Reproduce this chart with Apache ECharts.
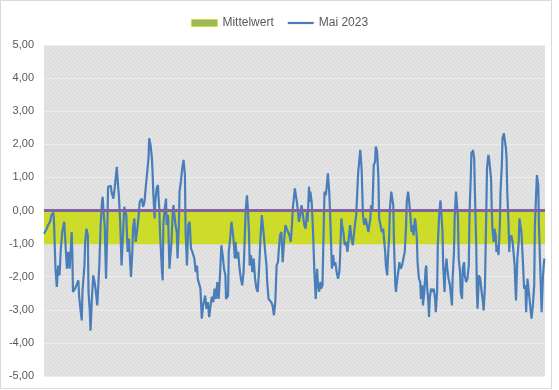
<!DOCTYPE html>
<html>
<head>
<meta charset="utf-8">
<script src="https://cdn.jsdelivr.net/npm/echarts@6/dist/echarts.min.js"></script>
<style>html,body{margin:0;padding:0;background:#fff}#c{width:559px;height:390px}</style>
</head>
<body>
<div id="c"></div>
<script>
// Stündliche Werte Mai 2023: [Stunde seit 1. Mai 00:00, Wert]
const mai2023 = [
[0,-0.70],[4,-0.55],[6,-0.44],[9,-0.34],[11,-0.14],[14,-0.06],[15,-0.44],[17,-1.76],[19,-2.31],[21,-1.66],
[23,-1.96],[25,-1.15],[27,-0.65],[30,-0.34],[32,-1.06],[34,-1.76],[36,-1.25],[38,-1.76],[40,-1.06],[41,-0.65],
[42,-1.25],[43,-2.46],[46,-2.36],[48,-2.26],[51,-2.11],[52,-2.57],[54,-2.97],[56,-3.32],[57,-2.46],[60,-1.66],
[61,-0.95],[63,-0.55],[65,-0.75],[66,-2.46],[68,-3.07],[69,-3.63],[71,-2.67],[73,-1.96],[75,-2.16],[77,-2.46],
[79,-2.87],[82,-1.66],[84,-0.44],[86,0.26],[87,0.41],[89,-0.24],[90,-0.44],[92,-2.06],[94,-0.44],[95,0.72],
[99,0.75],[100,0.57],[103,0.36],[105,0.72],[108,1.32],[109,0.97],[111,0.46],[113,-0.34],[115,-1.66],[116,-1.25],
[119,0.11],[121,0.06],
[122,-0.14],[124,-1.25],[126,-0.85],[128,-1.66],[129,-2.01],[131,-1.25],[132,-0.55],[134,-0.24],[136,-0.95],[139,-0.44],
[140,-0.24],[142,0.26],[145,0.36],[147,0.11],[149,0.26],[151,0.72],[153,0.77],[155,1.58],[156,2.18],[157,2.23],
[158,1.98],[160,1.58],[161,1.17],[162,0.57],[164,-0.24],[165,0.26],[167,0.67],[169,0.77],[170,0.36],[171,0.06],
[172,-0.65],[175,-1.86],[176,-2.11],[177,-0.44],[179,0.06],[181,0.36],[182,-0.44],[184,-0.14],[186,-1.76],[187,-1.81],
[189,-0.95],[191,-0.04],[192,0.16],[195,-0.44],[197,-0.65],[198,-1.45],[200,-0.44],[201,0.57],[203,0.87],[205,1.27],
[207,1.53],[209,1.07],[210,-0.65],[212,-1.66],[214,-0.44],[216,-0.34],[218,-1.15],[220,-1.25],[223,-1.45],[225,-1.86],
[227,-1.66],[228,-2.06],[230,-2.06],[232,-2.36],[234,-3.27],[236,-2.87],[239,-2.57],[241,-2.97],[243,-2.77],[245,-3.22],
[247,-2.87],[249,-2.60],
[251,-2.77],[253,-2.36],[255,-2.67],[257,-2.16],[259,-2.67],[260,-2.67],[261,-1.96],[263,-1.05],[265,-1.35],[267,-1.76],
[269,-1.96],[270,-2.67],[273,-2.57],[274,-1.25],[276,-0.85],[278,-0.34],[279,-0.29],[281,-0.85],[283,-1.45],[284,-0.95],
[286,-1.45],[288,-1.25],[290,-1.76],[292,-2.06],[294,-2.26],[296,-1.86],[297,-1.25],[299,-0.04],[301,0.46],[302,0.16],
[304,-0.65],[305,-1.66],[307,-1.35],[309,-1.86],[311,-1.45],[313,-2.06],[315,-2.36],[317,-2.46],[319,-1.76],[321,-0.85],
[323,-0.14],[325,-0.09],[326,-0.75],[328,-1.25],[330,-1.66],[331,-2.16],[333,-2.67],[335,-2.62],[337,-2.77],[339,-2.87],
[341,-3.17],[343,-2.77],[345,-1.66],[347,-1.56],[348,-1.25],[350,-0.75],[352,-0.65],[354,-1.56],[356,-0.95],[358,-0.44],
[360,-0.55],[362,-0.65],[364,-0.75],[366,-0.95],[368,-0.34],[369,0.06],[372,0.67],[375,0.26],[377,-0.12],
[378,-0.34],[380,-0.14],[382,0.16],[384,-0.14],[386,-0.44],[388,-0.55],[390,-0.04],[391,-0.34],[393,0.72],[394,0.26],
[395,0.57],[397,0.26],[399,-0.65],[401,-1.86],[403,-2.67],[405,-1.76],[406,-2.16],[408,-2.46],[410,-2.16],[411,-2.36],
[413,-2.26],[414,-1.25],[416,0.57],[418,0.46],[420,0.87],[421,1.12],[423,0.57],[424,0.06],[426,-1.15],[427,-1.76],
[429,-1.35],[430,-1.66],[432,-1.56],[434,-1.86],[436,-2.06],[438,-1.86],[439,-1.45],[441,-0.24],[442,-0.44],[444,-0.65],
[446,-1.05],[448,-0.95],[450,-1.25],[452,-0.85],[454,-0.44],[456,-0.85],[458,-1.05],[461,-0.44],[463,-0.14],[466,1.17],
[467,1.37],[469,1.83],[471,1.27],[472,0.57],[473,-0.14],[475,-0.44],[477,-0.24],[479,-0.44],[481,-0.65],[484,-0.24],
[485,0.16],[487,-0.04],[489,1.37],[491,1.47],[492,1.93],[494,1.78],[496,0.97],[497,-0.24],[499,-0.44],[501,-0.65],
[503,-0.55],
[506,-1.25],[507,-1.66],[509,-1.96],[510,-1.45],[512,-0.75],[513,0.06],[515,0.57],[516,0.62],[518,0.16],[519,-0.95],
[521,-2.26],[522,-2.46],[524,-2.06],[526,-1.76],[527,-1.56],[529,-1.76],[531,-1.66],[533,-1.45],[535,-1.25],[537,-0.44],
[538,0.26],[540,0.57],[542,0.57],[543,-0.04],[545,-0.65],[546,-0.44],[548,-0.75],[550,-0.24],[551,-0.34],[553,-0.85],
[554,-1.56],[556,-2.06],[558,-2.16],[559,-2.67],[561,-2.26],[562,-2.87],[564,-2.46],[566,-1.76],[567,-1.66],[568,-2.26],
[570,-2.77],[571,-3.22],[572,-2.67],[574,-2.36],[576,-2.46],[578,-2.36],[580,-2.67],[581,-3.07],[583,-2.46],[584,-1.05],
[586,-0.14],[588,0.31],[589,0.26],[591,-0.65],[592,-1.66],[594,-2.46],[595,-1.86],[597,-1.45],[598,-1.76],[600,-2.06],
[602,-2.26],[603,-2.46],[605,-2.87],[606,-2.06],[608,-1.25],[609,-0.24],[611,0.57],[612,0.62],[614,-0.24],[615,-1.45],
[617,-1.86],[618,-2.46],[620,-2.67],[621,-1.76],[623,-1.56],[624,-1.96],[626,-2.16],[628,-2.06],[630,-1.66],[631,-0.14],
[633,1.07],[634,1.78],
[635,1.68],[636,1.83],[638,1.58],[639,0.57],[641,-1.05],[642,-2.46],[643,-2.97],[645,-1.96],[647,-2.06],[649,-2.46],
[651,-2.77],[652,-3.02],[654,-2.26],[655,-1.05],[656,0.06],[657,1.27],[659,1.68],[660,1.58],[662,1.63],[663,0.97],
[664,0.06],[665,-0.55],[667,-0.95],[668,-0.55],[670,-0.75],[671,-1.25],[673,-1.05],[674,-1.35],[676,-0.44],[677,0.57],
[679,1.37],[680,2.18],[682,2.33],[683,2.28],[685,1.88],[686,1.58],[687,0.57],[689,-0.44],[690,-1.25],[691,-0.85],
[693,-0.75],[695,-0.95],[698,-1.66],[699,-2.26],[700,-2.72],[702,-1.45],[704,-0.95],[705,-0.24],[707,-0.19],[708,-0.65],
[710,-1.45],[712,-2.36],[714,-2.26],[715,-3.07],[717,-2.06],[719,-2.46],[721,-2.87],[723,-3.27],[725,-2.87],[727,-2.26],
[728,-0.44],[730,0.57],[731,1.07],[733,0.77],[734,-0.44],[736,-1.76],[738,-3.07],[740,-1.96],[742,-1.45]
];
const mittelwert = -1.02;
const nullLinie = 0;
const stundenMai = 743;
const yMin = -5, yMax = 5, yStep = 1;

function hatch() {
  const cv = document.createElement('canvas');
  cv.width = 4; cv.height = 4;
  const g = cv.getContext('2d');
  g.fillStyle = '#e3e3e3'; g.fillRect(0, 0, 4, 4);
  g.fillStyle = '#d9d9d9';
  for (let i = 0; i < 4; i++) g.fillRect(i, i, 1, 1);
  return cv;
}

const chart = echarts.init(document.getElementById('c'), null, {renderer: 'canvas'});
const font = 'Liberation Sans';
chart.setOption({
  animation: false,
  backgroundColor: '#ffffff',
  textStyle: {fontFamily: font},
  graphic: [{type: 'rect', shape: {x: 0.5, y: 0.5, width: 551, height: 388}, style: {fill: 'none', stroke: '#d9d9d9', lineWidth: 1}, silent: true}],
  legend: {
    top: 12, left: 'center', itemWidth: 26, itemHeight: 7, itemGap: 14,
    textStyle: {color: '#595959', fontSize: 12, fontFamily: font},
    data: [
      {name: 'Mittelwert', icon: 'rect', itemStyle: {color: '#9bbb59', borderColor: '#d4df3a', borderWidth: 1}},
      {name: 'Mai 2023', icon: 'path://M0,0H26V2.2H0Z', itemStyle: {color: '#4a7ebb', borderWidth: 0}}
    ]
  },
  grid: {left: 44, right: 14, top: 45, bottom: 14, show: true, borderWidth: 0,
    backgroundColor: {image: hatch(), repeat: 'repeat'}},
  xAxis: {type: 'value', min: 0, max: stundenMai, show: false},
  yAxis: {
    type: 'value', min: yMin, max: yMax, interval: yStep,
    axisLine: {show: false}, axisTick: {show: false},
    axisLabel: {color: '#595959', fontSize: 11, margin: 10, fontFamily: font,
      formatter: v => v.toFixed(2).replace('.', ',')},
    splitLine: {lineStyle: {color: '#ececec', width: 1}}
  },
  series: [
    {name: 'Mittelwert', type: 'line', symbol: 'none', z: 1,
     data: [[0, mittelwert], [stundenMai, mittelwert]],
     lineStyle: {width: 0}, itemStyle: {color: '#cddc29'},
     areaStyle: {color: '#cddc29', opacity: 1, origin: 'auto'}},
    {name: 'Mai 2023', type: 'line', symbol: 'none', z: 2,
     data: mai2023, itemStyle: {color: '#4f81bd'},
     lineStyle: {color: '#4a7ebb', width: 2.2}},
    {name: 'Null', type: 'line', symbol: 'none', z: 3,
     data: [[0, nullLinie], [stundenMai, nullLinie]],
     lineStyle: {color: '#8064a2', width: 3}, itemStyle: {color: '#8064a2'}}
  ]
});
</script>
</body>
</html>
